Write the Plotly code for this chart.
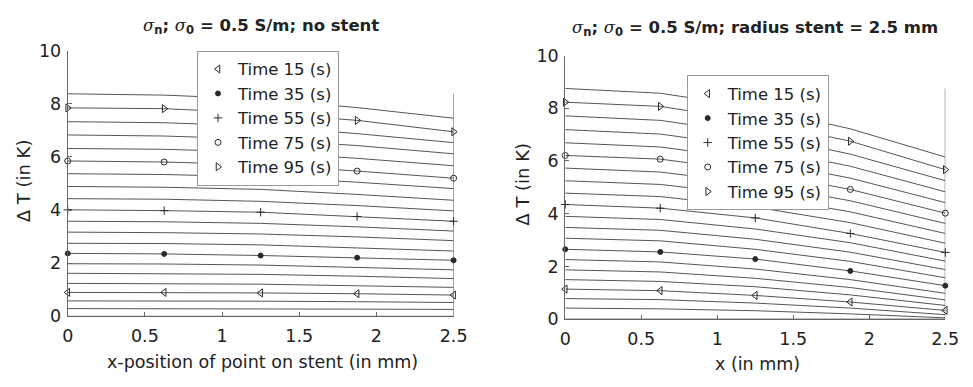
import plotly.graph_objects as go

# ---------------- data ----------------
x_pos = [0, 0.625, 1.25, 1.875, 2.5]
times = [0, 5, 10, 15, 20, 25, 30, 35, 40, 45, 50, 55, 60, 65, 70, 75, 80, 85, 90, 95, 100]

# Delta T (K) per time step at each x position - left panel (no stent)
left_T = [
    [0.00, 0.00, 0.00, 0.00, 0.00],
    [0.29, 0.29, 0.28, 0.27, 0.26],
    [0.58, 0.58, 0.57, 0.55, 0.52],
    [0.90, 0.90, 0.88, 0.85, 0.80],
    [1.24, 1.23, 1.21, 1.15, 1.09],
    [1.62, 1.61, 1.58, 1.51, 1.42],
    [1.98, 1.97, 1.93, 1.85, 1.75],
    [2.37, 2.35, 2.29, 2.21, 2.11],
    [2.75, 2.74, 2.69, 2.58, 2.46],
    [3.17, 3.15, 3.10, 2.99, 2.85],
    [3.58, 3.56, 3.50, 3.37, 3.21],
    [4.01, 3.98, 3.92, 3.76, 3.58],
    [4.43, 4.41, 4.33, 4.17, 3.97],
    [4.89, 4.86, 4.78, 4.59, 4.37],
    [5.37, 5.34, 5.25, 5.05, 4.81],
    [5.85, 5.81, 5.71, 5.47, 5.20],
    [6.32, 6.29, 6.18, 5.95, 5.67],
    [6.83, 6.79, 6.67, 6.43, 6.12],
    [7.33, 7.29, 7.16, 6.88, 6.54],
    [7.85, 7.82, 7.65, 7.38, 6.95],
    [8.38, 8.33, 8.18, 7.86, 7.46],
]

# right panel (radius stent = 2.5 mm)
right_T = [
    [0.00, 0.00, 0.00, 0.00, 0.00],
    [0.42, 0.39, 0.32, 0.20, 0.05],
    [0.78, 0.74, 0.61, 0.42, 0.17],
    [1.14, 1.08, 0.90, 0.65, 0.33],
    [1.50, 1.43, 1.23, 0.92, 0.52],
    [1.87, 1.79, 1.55, 1.20, 0.73],
    [2.26, 2.17, 1.90, 1.50, 0.98],
    [2.65, 2.55, 2.28, 1.83, 1.27],
    [3.07, 2.97, 2.65, 2.19, 1.57],
    [3.48, 3.37, 3.03, 2.54, 1.88],
    [3.90, 3.78, 3.42, 2.90, 2.20],
    [4.35, 4.21, 3.84, 3.25, 2.53],
    [4.78, 4.65, 4.25, 3.66, 2.88],
    [5.25, 5.11, 4.69, 4.07, 3.25],
    [5.73, 5.58, 5.14, 4.49, 3.63],
    [6.21, 6.07, 5.60, 4.92, 4.02],
    [6.69, 6.53, 6.05, 5.35, 4.42],
    [7.19, 7.02, 6.53, 5.80, 4.83],
    [7.71, 7.54, 7.02, 6.26, 5.25],
    [8.23, 8.07, 7.51, 6.75, 5.67],
    [8.75, 8.57, 8.02, 7.22, 6.15],
]

marker_times = [15, 35, 55, 75, 95]
legend_labels = ["Time 15 (s)", "Time 35 (s)", "Time 55 (s)", "Time 75 (s)", "Time 95 (s)"]
x_ticks = [0, 0.5, 1, 1.5, 2, 2.5]
x_ticktext = ["0", "0.5", "1", "1.5", "2", "2.5"]
y_ticks = [0, 2, 4, 6, 8, 10]

title_left = "no stent"
title_right = "radius stent = 2.5 mm"
xlabel_left = "x-position of point on stent (in mm)"
xlabel_right = "x (in mm)"
ylabel = "Δ T (in K)"

# ---------------- styles ----------------
W, H = 973, 387
FONT = "DejaVu Sans"
LINE_COLOR = "#555555"
MARK_COLOR = "#2a2a2a"
symbols = {
    15: dict(symbol="triangle-left-open", size=7),
    35: dict(symbol="circle", size=5),
    55: dict(symbol="cross-thin-open", size=6),
    75: dict(symbol="circle-open", size=6),
    95: dict(symbol="triangle-right-open", size=7),
}

fig = go.Figure()

panels = [
    dict(data=left_T, xa="x", ya="y", legend="legend"),
    dict(data=right_T, xa="x2", ya="y2", legend="legend2"),
]

for p in panels:
    for t, row in zip(times, p["data"]):
        fig.add_trace(go.Scatter(
            x=x_pos, y=row, mode="lines", xaxis=p["xa"], yaxis=p["ya"],
            line=dict(color=LINE_COLOR, width=1), showlegend=False, hoverinfo="skip"))
    # vertical line at the last x position
    top = max(max(r) for r in p["data"])
    fig.add_trace(go.Scatter(
        x=[x_pos[-1], x_pos[-1]], y=[0, top], mode="lines", xaxis=p["xa"], yaxis=p["ya"],
        line=dict(color=LINE_COLOR, width=1), showlegend=False, hoverinfo="skip"))
    for t, lab in zip(marker_times, legend_labels):
        row = p["data"][times.index(t)]
        st = symbols[t]
        fig.add_trace(go.Scatter(
            x=x_pos, y=row, mode="markers", xaxis=p["xa"], yaxis=p["ya"], name=lab,
            legend=p["legend"], cliponaxis=False,
            marker=dict(symbol=st["symbol"], size=st["size"], color=MARK_COLOR,
                        line=dict(color=MARK_COLOR, width=1))))

def px_x(v):
    return v / W

def px_y(v):
    return 1 - v / H

L_DOM = [px_x(63), px_x(457)]
R_DOM = [px_x(571), px_x(959)]
L_YDOM = [px_y(323), px_y(43)]
R_YDOM = [px_y(326), px_y(48)]

axis_common = dict(showline=True, linecolor="#666666", linewidth=1, ticks="inside",
                   ticklen=4, tickcolor="#666666", showgrid=False, zeroline=False,
                   tickfont=dict(family=FONT, size=17.5, color="#222222"), mirror=False)

fig.update_layout(
    width=W, height=H, margin=dict(l=0, r=0, t=0, b=0),
    paper_bgcolor="white", plot_bgcolor="white",
    xaxis=dict(domain=L_DOM, range=[0, 2.5], tickvals=x_ticks, ticktext=x_ticktext,
               anchor="y", ticklabelstandoff=4, **axis_common),
    yaxis=dict(domain=L_YDOM, range=[0, 10], tickvals=y_ticks, anchor="x",
               ticklabelstandoff=2, **axis_common),
    xaxis2=dict(domain=R_DOM, range=[0, 2.5], tickvals=x_ticks, ticktext=x_ticktext,
                anchor="y2", ticklabelstandoff=4, **axis_common),
    yaxis2=dict(domain=R_YDOM, range=[0, 10], tickvals=y_ticks, anchor="x2",
                ticklabelstandoff=2, **axis_common),
    legend=dict(x=px_x(195), y=px_y(43), xanchor="left", yanchor="top", bgcolor="white",
                bordercolor="#999999", borderwidth=1, tracegroupgap=0,
                font=dict(family=FONT, size=16.5, color="#222222")),
    legend2=dict(x=px_x(695), y=px_y(69), xanchor="left", yanchor="top", bgcolor="white",
                 bordercolor="#999999", borderwidth=1, tracegroupgap=0,
                 font=dict(family=FONT, size=16.5, color="#222222")),
    showlegend=True,
)

sig = "<span style='font-family:DejaVu Serif;font-weight:normal'><i>σ</i></span>"

def title_text(rest):
    return f"<b>{sig}<sub>n</sub>; {sig}<sub>0</sub> = 0.5 S/m; {rest}</b>"

annots = [
    dict(text=title_text(title_left), x=px_x(260), y=px_y(17)),
    dict(text=title_text(title_right), x=px_x(765), y=px_y(20)),
    dict(text=xlabel_left, x=px_x(262), y=px_y(371)),
    dict(text=xlabel_right, x=px_x(767), y=px_y(373)),
    dict(text=ylabel, x=px_x(18), y=px_y(180), textangle=-90),
    dict(text=ylabel, x=px_x(527), y=px_y(184), textangle=-90),
]
for a in annots:
    fig.add_annotation(xref="paper", yref="paper", xanchor="center", yanchor="middle",
                       showarrow=False, font=dict(family=FONT, size=18, color="#222222"), **a)
fig.layout.annotations[0].font.size = 16.5
fig.layout.annotations[1].font.size = 16.5
fig.layout.annotations[2].font.size = 17.5
fig.layout.annotations[3].font.size = 17.5

fig.write_html("out.html")
